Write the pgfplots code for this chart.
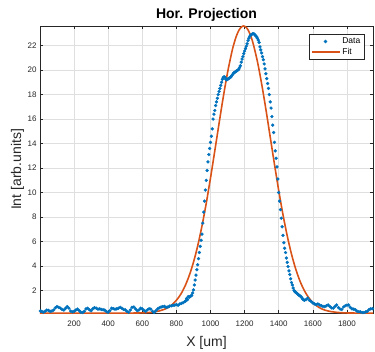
\documentclass[border=0pt]{standalone}
\usepackage{pgfplots}
\pgfplotsset{compat=1.18}
\usepackage{pgfplotstable}
\usepackage{fontspec}
\setmainfont{Liberation Sans}
\definecolor{mblue}{RGB}{0,114,189}
\definecolor{morange}{RGB}{217,83,25}
\definecolor{axgray}{RGB}{38,38,38}
\definecolor{gridgray}{RGB}{223,223,223}
\pgfplotsset{
  markleg/.style={legend image code/.code={\draw[mark repeat=2,mark phase=2,##1] plot coordinates {(0pt,0pt) (14pt,0pt) (28pt,0pt)};}},
  lineleg/.style={legend image code/.code={\draw[##1] (0pt,0pt) -- (28pt,0pt);}},
}
\pgfplotstableread{
x y
2 0.32
10 0.3
20 0.22
30 0.3
40 0.4
50 0.38
60 0.3
70 0.32
80 0.4
90 0.58
100 0.68
110 0.62
120 0.55
130 0.45
140 0.4
150 0.55
160 0.68
170 0.55
180 0.32
190 0.25
200 0.3
210 0.4
220 0.48
230 0.35
240 0.22
250 0.2
260 0.3
270 0.5
280 0.55
290 0.42
300 0.35
310 0.5
320 0.6
330 0.55
340 0.48
350 0.5
360 0.45
370 0.42
380 0.4
390 0.28
400 0.22
410 0.35
420 0.55
430 0.52
440 0.48
450 0.5
460 0.55
470 0.62
480 0.55
490 0.45
500 0.42
510 0.3
520 0.22
530 0.4
540 0.62
550 0.65
560 0.5
570 0.35
580 0.4
590 0.55
600 0.5
610 0.38
620 0.3
630 0.42
640 0.5
650 0.48
660 0.3
670 0.2
680 0.35
690 0.5
700 0.58
710 0.65
720 0.68
730 0.7
740 0.62
750 0.65
760 0.72
770 0.75
780 0.78
790 0.8
800 0.85
810 0.8
820 0.9
830 0.95
840 1.0
850 1.1
855 1.15
860 1.35
865 1.25
870 1.5
875 1.45
880 1.5
885 1.55
890 1.6
895 1.8
900 2.05
905 2.45
910 2.85
915 3.25
920 3.7
925 4.1
930 4.6
935 5.1
940 5.6
945 6.1
950 6.6
955 7.5
960 8.4
965 9.3
970 10.2
975 11.0
980 11.8
985 12.5
990 13.1
995 13.6
1000 14.1
1005 14.6
1010 15.2
1015 16.0
1020 16.4
1025 16.7
1030 17.1
1035 17.4
1040 17.7
1045 18.0
1050 18.25
1055 18.5
1060 18.75
1065 19.0
1070 19.25
1075 19.4
1080 19.45
1085 19.4
1090 19.25
1095 19.2
1100 19.25
1105 19.3
1110 19.35
1115 19.4
1120 19.45
1125 19.55
1130 19.65
1135 19.75
1140 19.8
1145 19.85
1150 19.9
1155 19.95
1160 20.0
1165 20.05
1170 20.2
1175 20.35
1180 20.65
1185 20.9
1190 21.1
1195 21.35
1200 21.55
1205 21.75
1210 21.95
1215 22.15
1220 22.4
1225 22.6
1230 22.75
1235 22.85
1240 22.9
1245 22.95
1250 22.97
1255 22.95
1260 22.88
1265 22.8
1270 22.72
1275 22.6
1280 22.45
1285 22.25
1290 21.9
1295 21.65
1300 21.4
1305 21.1
1310 20.85
1315 20.5
1320 20.1
1325 19.7
1330 19.3
1335 18.9
1340 18.5
1345 18.0
1350 17.4
1355 16.9
1360 16.2
1365 15.5
1370 14.9
1375 14.1
1380 13.4
1385 12.8
1390 12.1
1395 11.1
1400 10.0
1405 9.3
1410 8.6
1415 7.9
1420 7.2
1425 6.5
1430 5.9
1435 5.45
1440 5.1
1445 4.65
1450 4.3
1455 3.95
1460 3.6
1465 3.3
1470 2.95
1475 2.65
1480 2.45
1485 2.2
1490 2.0
1495 1.9
1500 1.85
1505 1.8
1510 1.72
1515 1.65
1520 1.6
1525 1.55
1530 1.5
1535 1.42
1540 1.3
1545 1.25
1550 1.2
1560 1.25
1570 1.38
1580 1.2
1590 1.1
1600 0.98
1610 0.9
1620 0.85
1630 0.9
1640 0.82
1650 0.75
1660 0.7
1670 0.68
1680 0.75
1690 0.82
1700 0.7
1710 0.58
1720 0.55
1730 0.7
1740 0.82
1750 0.6
1760 0.48
1770 0.45
1780 0.65
1790 0.75
1800 0.8
1810 0.82
1820 0.62
1830 0.5
1840 0.48
1850 0.42
1860 0.3
1870 0.27
1880 0.25
1890 0.2
1900 0.2
1910 0.25
1920 0.3
1930 0.45
1940 0.5
1950 0.52
}\datatable
\pgfplotstableread{
x y
0 0.15
100 0.15
200 0.15
300 0.15
400 0.15
500 0.152
550 0.156
600 0.17
650 0.21
700 0.33
725 0.44
750 0.60
775 0.85
800 1.20
825 1.68
850 2.34
875 3.21
900 4.30
925 5.65
950 7.27
975 9.12
1000 11.19
1025 13.39
1050 15.63
1075 17.81
1100 19.80
1125 21.47
1137.5 22.15
1150 22.71
1162.5 23.14
1175 23.43
1187.5 23.58
1194 23.60
1200 23.58
1212.5 23.44
1225 23.15
1237.5 22.73
1250 22.17
1275 20.71
1300 18.87
1325 16.78
1350 14.55
1375 12.32
1400 10.17
1425 8.20
1450 6.46
1475 4.97
1500 3.74
1525 2.76
1550 2.00
1575 1.43
1600 1.01
1625 0.72
1650 0.51
1675 0.38
1700 0.29
1750 0.20
1800 0.165
1850 0.155
1900 0.15
1953 0.15
}\fittable
\begin{document}
\begin{tikzpicture}
\begin{axis}[
  scale only axis, width=333pt, height=287pt,
  xmin=0, xmax=1953, ymin=0.16, ymax=23.6,
  xtick={200,400,...,1800}, ytick={2,4,...,22},
  grid=major, major grid style={gridgray, line width=0.5pt},
  axis line style={axgray, line width=0.5pt},
  tick style={axgray, line width=0.5pt}, major tick length=3pt,
  tick align=inside,
  ticklabel style={font=\fontsize{8}{9}\selectfont, text=axgray},
  xticklabel style={yshift=-4pt},
  /pgf/number format/assume math mode=true,
  /pgf/number format/1000 sep={},
  title={\textbf{Hor. Projection}},
  title style={font=\fontsize{14}{16}\selectfont, at={(axis description cs:0.5,1.0035)}, anchor=base, inner sep=0pt},
  xlabel={X [um]}, ylabel={Int [arb.units]},
  xlabel style={font=\fontsize{14}{16}\selectfont, text=axgray, at={(axis description cs:0.5,-0.118)}, anchor=base, inner sep=0pt},
  ylabel style={font=\fontsize{14}{16}\selectfont, text=axgray, at={(axis description cs:-0.057,0.5)}, anchor=base, inner sep=0pt},
  legend style={at={(axis description cs:0.973,0.972)}, anchor=north east, draw=axgray, line width=0.5pt, fill=white, font=\fontsize{8.5}{10}\selectfont, inner sep=1.5pt, row sep=-1pt, cells={anchor=west}},
]
\addplot[only marks, mark=*, mark size=1.45pt, mblue, mark options={draw=mblue, fill=mblue}, markleg]
  table[x=x,y=y] {\datatable};
\addlegendentry{Data}
\addplot[no marks, morange, line width=1.6pt, smooth, lineleg]
  table[x=x,y=y] {\fittable};
\addlegendentry{Fit}
\coordinate (sw) at (rel axis cs:0,0);
\coordinate (ne) at (rel axis cs:1,1);
\end{axis}
\pgfresetboundingbox
\useasboundingbox ([shift={(-40pt,-38pt)}]sw) rectangle ([shift={(2pt,26pt)}]ne);
\end{tikzpicture}
\end{document}
